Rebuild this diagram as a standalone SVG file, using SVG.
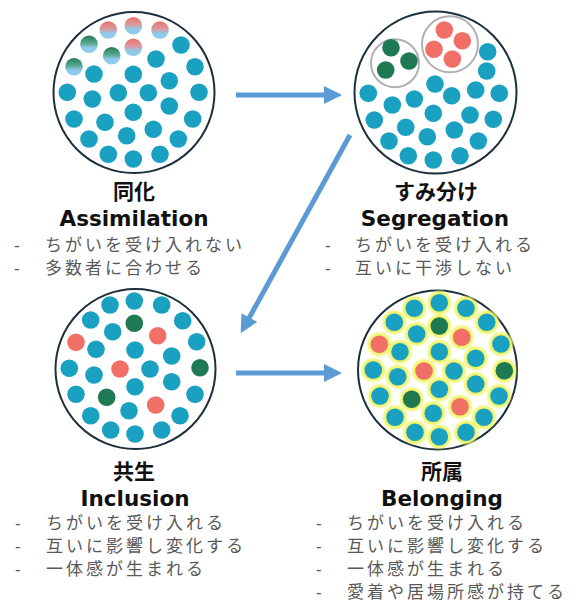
<svg xmlns="http://www.w3.org/2000/svg" width="576" height="604" viewBox="0 0 576 604">
<defs>
<style>
.ring{fill:#fff;stroke:#1b2f3d;stroke-width:2}
.grp{fill:none;stroke:#b0b0b0;stroke-width:2}
.t{fill:#1aa1c2}
.g{fill:#1f7a53}
.r{fill:#f07068}
.gr{fill:url(#gradR)}
.gg{fill:url(#gradG)}
.halo{fill:#eff46a;filter:url(#blur)}
.ttl{font-family:"Noto Sans CJK JP",sans-serif;font-weight:bold;font-size:21px;fill:#111;text-anchor:middle}
.en{font-family:"DejaVu Sans",Verdana,sans-serif;font-weight:bold;font-size:21.5px;fill:#111;text-anchor:middle}
.b{font-family:"Noto Sans CJK JP",sans-serif;font-size:17px;fill:#595959;letter-spacing:3px}
.d{font-family:"Liberation Sans",sans-serif;font-size:17px;fill:#595959}
.arr{stroke:#5b9bd5;stroke-width:5;fill:none}
</style>
<linearGradient id="gradR" x1="0" y1="0" x2="0" y2="1">
<stop offset="0" stop-color="#ec6f67"/><stop offset="0.45" stop-color="#d99aa2"/><stop offset="0.7" stop-color="#8ecbea"/><stop offset="1" stop-color="#8ecbea"/>
</linearGradient>
<linearGradient id="gradG" x1="0" y1="0" x2="0" y2="1">
<stop offset="0" stop-color="#217a55"/><stop offset="0.45" stop-color="#5aa892"/><stop offset="0.7" stop-color="#8ecbea"/><stop offset="1" stop-color="#8ecbea"/>
</linearGradient>
<filter id="blur" x="-30%" y="-30%" width="160%" height="160%"><feGaussianBlur stdDeviation="1.3"/></filter>
<marker id="ah" markerUnits="userSpaceOnUse" markerWidth="18" markerHeight="18" viewBox="0 0 18 18" refX="2" refY="9" orient="auto">
<path d="M0,0 L18,9 L0,18 z" fill="#5b9bd5"/>
</marker>
</defs>

<g id="assimilation">
<circle class="ring" cx="134" cy="92.5" r="80.5"/>
<circle class="gr" cx="108.3" cy="30" r="8.8"/>
<circle class="gr" cx="133.3" cy="25.7" r="8.8"/>
<circle class="gr" cx="160" cy="30" r="8.8"/>
<circle class="gg" cx="89" cy="44.3" r="8.8"/>
<circle class="gr" cx="133.3" cy="47.3" r="8.8"/>
<circle class="gg" cx="111.7" cy="55.7" r="8.8"/>
<circle class="gg" cx="74" cy="66.7" r="8.8"/>
<circle class="t" cx="181" cy="45" r="8.8"/>
<circle class="t" cx="156" cy="59" r="8.8"/>
<circle class="t" cx="195" cy="66.7" r="8.8"/>
<circle class="t" cx="94" cy="74" r="8.8"/>
<circle class="t" cx="133.3" cy="74.3" r="8.8"/>
<circle class="t" cx="169.3" cy="80.7" r="8.8"/>
<circle class="t" cx="67.3" cy="92.3" r="8.8"/>
<circle class="t" cx="92.3" cy="99" r="8.8"/>
<circle class="t" cx="118.3" cy="92.7" r="8.8"/>
<circle class="t" cx="148.3" cy="92.7" r="8.8"/>
<circle class="t" cx="199" cy="92.3" r="8.8"/>
<circle class="t" cx="133.3" cy="112.3" r="8.8"/>
<circle class="t" cx="169.3" cy="106" r="8.8"/>
<circle class="t" cx="74" cy="119" r="8.8"/>
<circle class="t" cx="105" cy="122.3" r="8.8"/>
<circle class="t" cx="192.7" cy="119" r="8.8"/>
<circle class="t" cx="89" cy="139" r="8.8"/>
<circle class="t" cx="126.7" cy="135.7" r="8.8"/>
<circle class="t" cx="153.3" cy="129.3" r="8.8"/>
<circle class="t" cx="178.3" cy="139" r="8.8"/>
<circle class="t" cx="108.3" cy="154.3" r="8.8"/>
<circle class="t" cx="133.3" cy="159" r="8.8"/>
<circle class="t" cx="160" cy="154.3" r="8.8"/>
<text class="ttl" x="134" y="199">同化</text>
<text class="en" x="134" y="226">Assimilation</text>
<text class="d" x="14" y="251">-</text>
<text class="b" x="45" y="251">ちがいを受け入れない</text>
<text class="d" x="14" y="274">-</text>
<text class="b" x="45" y="274">多数者に合わせる</text>
</g>

<g id="segregation">
<circle class="ring" cx="435.5" cy="92.5" r="81"/>
<circle class="grp" cx="395" cy="63.3" r="24"/>
<circle class="grp" cx="450" cy="44.3" r="28"/>
<circle class="g" cx="391" cy="47.7" r="8.8"/>
<circle class="g" cx="409" cy="61" r="8.8"/>
<circle class="g" cx="385.7" cy="70" r="8.8"/>
<circle class="r" cx="444.3" cy="30" r="8.8"/>
<circle class="r" cx="462.3" cy="40.7" r="8.8"/>
<circle class="r" cx="434" cy="49.3" r="8.8"/>
<circle class="r" cx="452.3" cy="59" r="8.8"/>
<circle class="t" cx="487.7" cy="51.7" r="8.8"/>
<circle class="t" cx="486.7" cy="71" r="8.8"/>
<circle class="t" cx="368.3" cy="93.3" r="8.8"/>
<circle class="t" cx="435" cy="84" r="8.8"/>
<circle class="t" cx="414.3" cy="99" r="8.8"/>
<circle class="t" cx="392.3" cy="105" r="8.8"/>
<circle class="t" cx="451.7" cy="95.7" r="8.8"/>
<circle class="t" cx="475.7" cy="90" r="8.8"/>
<circle class="t" cx="499.3" cy="93.3" r="8.8"/>
<circle class="t" cx="374.3" cy="120" r="8.8"/>
<circle class="t" cx="433.3" cy="113.3" r="8.8"/>
<circle class="t" cx="470" cy="115" r="8.8"/>
<circle class="t" cx="493.3" cy="119.3" r="8.8"/>
<circle class="t" cx="405.7" cy="127.3" r="8.8"/>
<circle class="t" cx="454.3" cy="130" r="8.8"/>
<circle class="t" cx="389" cy="141" r="8.8"/>
<circle class="t" cx="427.3" cy="136.7" r="8.8"/>
<circle class="t" cx="478.3" cy="141" r="8.8"/>
<circle class="t" cx="408.3" cy="155.7" r="8.8"/>
<circle class="t" cx="433.3" cy="160" r="8.8"/>
<circle class="t" cx="460" cy="155.7" r="8.8"/>
<text class="ttl" x="436" y="199">すみ分け</text>
<text class="en" x="435" y="226">Segregation</text>
<text class="d" x="325" y="251">-</text>
<text class="b" x="355" y="251">ちがいを受け入れる</text>
<text class="d" x="325" y="274">-</text>
<text class="b" x="355" y="274">互いに干渉しない</text>
</g>

<g id="inclusion">
<circle class="ring" cx="135.5" cy="369" r="80"/>
<circle class="t" cx="110" cy="305" r="8.8"/>
<circle class="t" cx="134.3" cy="301" r="8.8"/>
<circle class="t" cx="161.7" cy="305" r="8.8"/>
<circle class="t" cx="90.7" cy="320" r="8.8"/>
<circle class="g" cx="134.3" cy="323.3" r="8.8"/>
<circle class="t" cx="182.7" cy="320.7" r="8.8"/>
<circle class="t" cx="112.7" cy="331.7" r="8.8"/>
<circle class="r" cx="157.7" cy="335.7" r="8.8"/>
<circle class="r" cx="76" cy="342.3" r="8.8"/>
<circle class="t" cx="96" cy="349.3" r="8.8"/>
<circle class="t" cx="135" cy="350" r="8.8"/>
<circle class="t" cx="196.7" cy="341.7" r="8.8"/>
<circle class="t" cx="171.7" cy="356" r="8.8"/>
<circle class="t" cx="69.3" cy="368.3" r="8.8"/>
<circle class="t" cx="94" cy="375" r="8.8"/>
<circle class="r" cx="120" cy="369" r="8.8"/>
<circle class="t" cx="150" cy="369" r="8.8"/>
<circle class="g" cx="200" cy="367.7" r="8.8"/>
<circle class="t" cx="171.7" cy="381.7" r="8.8"/>
<circle class="t" cx="135" cy="386.7" r="8.8"/>
<circle class="t" cx="76" cy="394.3" r="8.8"/>
<circle class="g" cx="106.7" cy="397.3" r="8.8"/>
<circle class="t" cx="195" cy="394.3" r="8.8"/>
<circle class="t" cx="129" cy="410.7" r="8.8"/>
<circle class="r" cx="155.7" cy="405" r="8.8"/>
<circle class="t" cx="90.7" cy="415.7" r="8.8"/>
<circle class="t" cx="180" cy="415.7" r="8.8"/>
<circle class="t" cx="110.7" cy="430" r="8.8"/>
<circle class="t" cx="135" cy="434" r="8.8"/>
<circle class="t" cx="161.7" cy="430" r="8.8"/>
<text class="ttl" x="134" y="479">共生</text>
<text class="en" x="135" y="506">Inclusion</text>
<text class="d" x="15" y="529">-</text>
<text class="b" x="46" y="529">ちがいを受け入れる</text>
<text class="d" x="15" y="552">-</text>
<text class="b" x="46" y="552">互いに影響し変化する</text>
<text class="d" x="15" y="575">-</text>
<text class="b" x="46" y="575">一体感が生まれる</text>
</g>

<g id="belonging">
<circle class="ring" cx="437.5" cy="370" r="79.5"/>
<g>
<circle class="halo" cx="414.3" cy="308.3" r="11.8"/>
<circle class="halo" cx="439.3" cy="302.7" r="11.8"/>
<circle class="halo" cx="466" cy="308.3" r="11.8"/>
<circle class="halo" cx="394.3" cy="322.3" r="11.8"/>
<circle class="halo" cx="439.3" cy="326" r="11.8"/>
<circle class="halo" cx="486.7" cy="322.3" r="11.8"/>
<circle class="halo" cx="416.7" cy="334" r="11.8"/>
<circle class="halo" cx="461.7" cy="337.3" r="11.8"/>
<circle class="halo" cx="379.3" cy="344.3" r="11.8"/>
<circle class="halo" cx="400" cy="351.7" r="11.8"/>
<circle class="halo" cx="439.3" cy="351.7" r="11.8"/>
<circle class="halo" cx="501" cy="344" r="11.8"/>
<circle class="halo" cx="475.7" cy="358.3" r="11.8"/>
<circle class="halo" cx="373.3" cy="370" r="11.8"/>
<circle class="halo" cx="397.7" cy="376.7" r="11.8"/>
<circle class="halo" cx="424" cy="371" r="11.8"/>
<circle class="halo" cx="454" cy="371" r="11.8"/>
<circle class="halo" cx="504.3" cy="370.7" r="11.8"/>
<circle class="halo" cx="475.7" cy="384" r="11.8"/>
<circle class="halo" cx="439.3" cy="389.3" r="11.8"/>
<circle class="halo" cx="380" cy="396" r="11.8"/>
<circle class="halo" cx="411.7" cy="399.3" r="11.8"/>
<circle class="halo" cx="499" cy="396" r="11.8"/>
<circle class="halo" cx="433.3" cy="413.3" r="11.8"/>
<circle class="halo" cx="460" cy="406.7" r="11.8"/>
<circle class="halo" cx="395" cy="417.3" r="11.8"/>
<circle class="halo" cx="484" cy="417.3" r="11.8"/>
<circle class="halo" cx="415" cy="432.3" r="11.8"/>
<circle class="halo" cx="439.3" cy="436.7" r="11.8"/>
<circle class="halo" cx="466" cy="432.3" r="11.8"/>
</g>
<circle class="t" cx="414.3" cy="308.3" r="8.8"/>
<circle class="t" cx="439.3" cy="302.7" r="8.8"/>
<circle class="t" cx="466" cy="308.3" r="8.8"/>
<circle class="t" cx="394.3" cy="322.3" r="8.8"/>
<circle class="g" cx="439.3" cy="326" r="8.8"/>
<circle class="t" cx="486.7" cy="322.3" r="8.8"/>
<circle class="t" cx="416.7" cy="334" r="8.8"/>
<circle class="r" cx="461.7" cy="337.3" r="8.8"/>
<circle class="r" cx="379.3" cy="344.3" r="8.8"/>
<circle class="t" cx="400" cy="351.7" r="8.8"/>
<circle class="t" cx="439.3" cy="351.7" r="8.8"/>
<circle class="t" cx="501" cy="344" r="8.8"/>
<circle class="t" cx="475.7" cy="358.3" r="8.8"/>
<circle class="t" cx="373.3" cy="370" r="8.8"/>
<circle class="t" cx="397.7" cy="376.7" r="8.8"/>
<circle class="r" cx="424" cy="371" r="8.8"/>
<circle class="t" cx="454" cy="371" r="8.8"/>
<circle class="g" cx="504.3" cy="370.7" r="8.8"/>
<circle class="t" cx="475.7" cy="384" r="8.8"/>
<circle class="t" cx="439.3" cy="389.3" r="8.8"/>
<circle class="t" cx="380" cy="396" r="8.8"/>
<circle class="g" cx="411.7" cy="399.3" r="8.8"/>
<circle class="t" cx="499" cy="396" r="8.8"/>
<circle class="t" cx="433.3" cy="413.3" r="8.8"/>
<circle class="r" cx="460" cy="406.7" r="8.8"/>
<circle class="t" cx="395" cy="417.3" r="8.8"/>
<circle class="t" cx="484" cy="417.3" r="8.8"/>
<circle class="t" cx="415" cy="432.3" r="8.8"/>
<circle class="t" cx="439.3" cy="436.7" r="8.8"/>
<circle class="t" cx="466" cy="432.3" r="8.8"/>
<text class="ttl" x="442" y="479">所属</text>
<text class="en" x="442" y="506">Belonging</text>
<text class="d" x="316" y="529">-</text>
<text class="b" x="347" y="529">ちがいを受け入れる</text>
<text class="d" x="316" y="552">-</text>
<text class="b" x="347" y="552">互いに影響し変化する</text>
<text class="d" x="316" y="575">-</text>
<text class="b" x="347" y="575">一体感が生まれる</text>
<text class="d" x="316" y="598">-</text>
<text class="b" x="347" y="598">愛着や居場所感が持てる</text>
</g>

<g id="connectors">
<line class="arr" x1="236" y1="95" x2="326" y2="95" marker-end="url(#ah)"/>
<line class="arr" x1="350" y1="135" x2="248.4" y2="319.3" marker-end="url(#ah)"/>
<line class="arr" x1="236" y1="373" x2="326" y2="373" marker-end="url(#ah)"/>
</g>
</svg>
